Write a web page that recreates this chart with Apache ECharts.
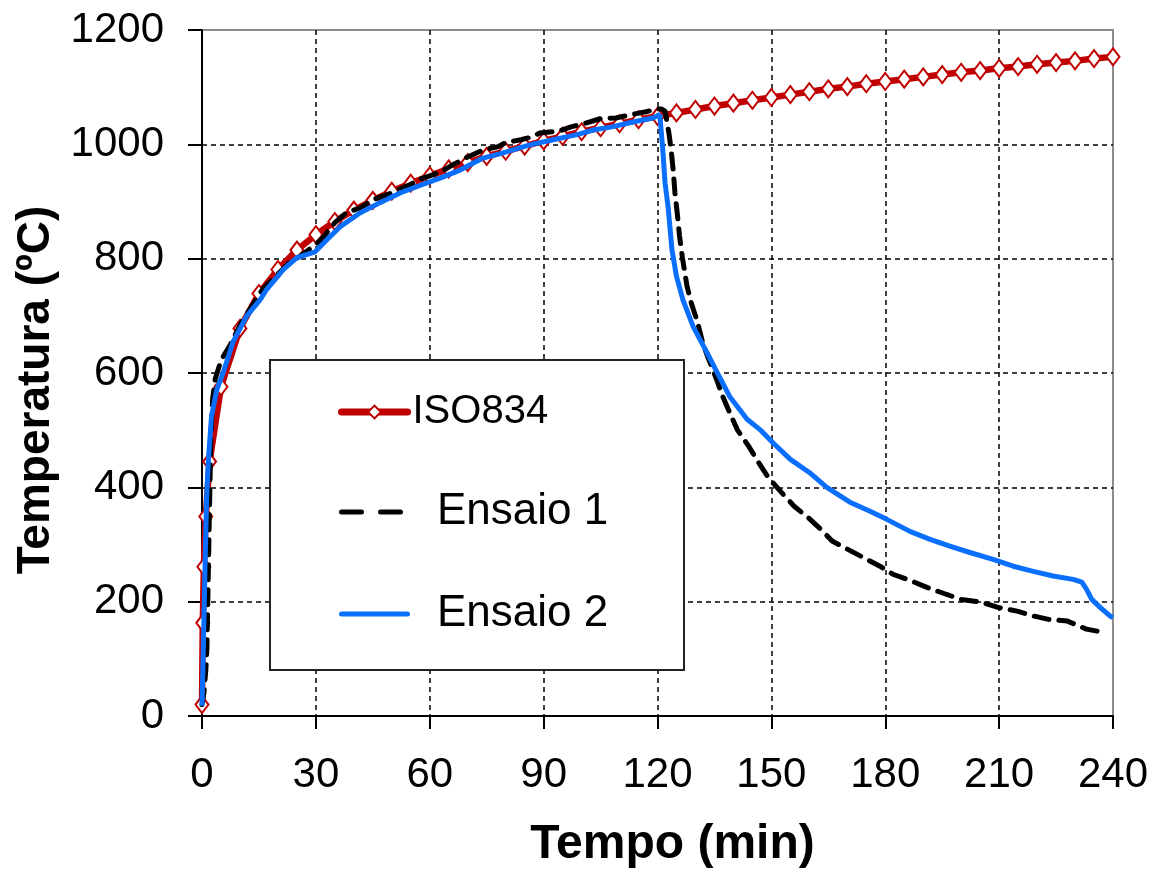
<!DOCTYPE html>
<html>
<head>
<meta charset="utf-8">
<script src="https://cdn.jsdelivr.net/npm/echarts@6/dist/echarts.min.js"></script>
<style>
html,body{margin:0;padding:0;background:#fff;}
#chart{width:1153px;height:874px;}
</style>
</head>
<body>
<div id="chart"></div>
<script>
// ---- Data ----
const xTicks = [0, 30, 60, 90, 120, 150, 180, 210, 240];
const yTicks = [0, 200, 400, 600, 800, 1000, 1200];

const isoTime = [0, 0.2, 0.5, 1, 2, 5, 10, 15, 20, 25, 30, 35, 40, 45, 50, 55, 60, 65, 70, 75, 80, 85, 90, 95, 100, 105, 110, 115, 120, 125, 130, 135, 140, 145, 150, 155, 160, 165, 170, 175, 180, 185, 190, 195, 200, 205, 210, 215, 220, 225, 230, 235, 240];
const isoTemp = [20, 163, 261, 349, 445, 576, 678, 739, 781, 815, 842, 865, 885, 902, 918, 932, 945, 957, 968, 979, 988, 997, 1006, 1014, 1022, 1029, 1036, 1043, 1049, 1055, 1061, 1067, 1072, 1077, 1082, 1087, 1092, 1097, 1101, 1106, 1110, 1114, 1118, 1122, 1126, 1129, 1133, 1136, 1140, 1143, 1146, 1150, 1153];

const ens1Time = [0, 0.5, 1, 1.3, 1.8, 2.3, 2.8, 3.5, 5, 7.5, 10.5, 12, 16, 18, 23, 26, 30, 32, 35, 38, 42, 45, 50, 55, 57, 60, 63, 66, 70, 74, 78, 80, 84, 87, 89, 94, 97, 101, 105, 109, 113, 117, 120, 121, 122, 123, 123.6, 124.2, 124.6, 125.2, 125.8, 126.6, 127.8, 129, 130.5, 132, 133.5, 135.5, 137, 139, 141, 144, 146.5, 149, 152, 156, 159.5, 163, 166, 170, 174, 178.6, 182, 187, 191, 196, 200, 205.5, 209.7, 215, 219, 223, 228, 233, 237, 238];
const ens1Temp = [20, 40, 80, 120, 300, 480, 555, 590, 622, 650, 690, 705, 747, 760, 793, 805, 825, 838, 863, 880, 890, 903, 915, 930, 938, 945, 952, 964, 978, 990, 996, 1003, 1008, 1013, 1020, 1023, 1030, 1037, 1045, 1046, 1052, 1057, 1062, 1062, 1058, 1020, 990, 950, 915, 880, 840, 800, 751, 720, 690, 650, 624, 590, 562, 531, 501, 472, 445, 419, 396, 367, 348, 327, 306, 292, 278, 262, 248, 236, 225, 213, 204, 199, 190, 183, 175, 169, 166, 152, 147, 145];

const ens2Time = [0, 0.35, 0.8, 1.2, 1.7, 2.5, 3.9, 5.6, 8.2, 11.8, 15.3, 17, 21.4, 25, 29.8, 32.9, 36.4, 41.6, 46.9, 52.2, 57.4, 62.7, 68, 74, 79.3, 86.4, 92.5, 98.8, 103, 108.3, 113.5, 118.8, 120.6, 121.1, 121.4, 122, 122.8, 123.8, 125, 126.7, 129.4, 133, 135.7, 139, 143.6, 147, 150.4, 155, 160, 164.6, 170.7, 176, 180.4, 186.5, 191.8, 197, 202.3, 208.4, 213.7, 219, 224.2, 229.5, 231.8, 233, 234.4, 236.6, 239.2, 240];
const ens2Temp = [18, 117, 262, 379, 449, 524, 571, 601, 655, 700, 728, 746, 781, 802, 812, 833, 856, 880, 898, 915, 928, 941, 955, 976, 985, 999, 1008, 1017, 1025, 1031, 1039, 1046, 1052, 1055, 990, 932, 890, 816, 769, 728, 681, 636, 601, 559, 519, 501, 478, 449, 426, 400, 374, 358, 344, 323, 309, 297, 286, 274, 262, 253, 245, 239, 234, 222, 204, 190, 175, 172];

const seriesNames = ['ISO834', 'Ensaio 1', 'Ensaio 2'];

function pairs(t, v) { return t.map((x, i) => [x, v[i]]); }

const FONT = 'Liberation Sans, Arial, sans-serif';
const RED = '#c00000', BLUE = '#0a6ffd';
const chart = echarts.init(document.getElementById('chart'), null, { renderer: 'canvas' });

const hiddenSymbol = { color: 'transparent', borderColor: 'transparent', borderWidth: 0, opacity: 0 };

chart.setOption({
  animation: false,
  backgroundColor: '#fff',
  grid: {
    left: 202, right: 40, top: 30, bottom: 157,
    show: true, borderColor: '#8c8c8c', borderWidth: 2, backgroundColor: 'transparent'
  },
  graphic: [{
    type: 'rect', z: 5,
    shape: { x: 270, y: 360, width: 414, height: 310 },
    style: { fill: '#fff', stroke: '#222', lineWidth: 2 }
  }],
  legend: {
    z: 10,
    orient: 'vertical',
    left: 338, top: 392, padding: 0,
    itemWidth: 66, itemHeight: 16,
    itemGap: 58,
    data: [
      { name: 'ISO834', lineStyle: { width: 7, color: RED, cap: 'round' } },
      { name: 'Ensaio 1', lineStyle: { width: 5, color: '#000', type: [20, 19], cap: 'round' }, itemStyle: hiddenSymbol },
      { name: 'Ensaio 2', lineStyle: { width: 5, color: BLUE, cap: 'round' }, itemStyle: hiddenSymbol }
    ],
    formatter: function (n) { return n === 'ISO834' ? '{a|ISO834}' : '{b|  ' + n + '}'; },
    textStyle: {
      fontFamily: FONT, color: '#000',
      rich: {
        a: { fontSize: 40, lineHeight: 40, fontFamily: FONT, color: '#000' },
        b: { fontSize: 44, lineHeight: 44, fontFamily: FONT, color: '#000' }
      }
    }
  },
  xAxis: {
    type: 'value', min: 0, max: 240, interval: 30,
    name: 'Tempo (min)', nameLocation: 'middle', nameGap: 105,
    nameTextStyle: { fontFamily: FONT, fontSize: 48, fontWeight: 'bold', color: '#000', padding: [0, 0, 0, 30] },
    axisLine: { show: true, lineStyle: { color: '#000', width: 2 } },
    axisTick: { show: true, inside: false, length: 13, lineStyle: { color: '#000', width: 2 } },
    axisLabel: {
      fontFamily: FONT, fontSize: 42, color: '#000', margin: 38,
      formatter: v => xTicks.includes(v) ? String(v) : ''
    },
    splitLine: { show: true, showMinLine: false, showMaxLine: false, lineStyle: { color: '#000', width: 1.5, type: [5, 4] } }
  },
  yAxis: {
    type: 'value', min: 0, max: 1200, interval: 200,
    name: 'Temperatura (ºC)', nameLocation: 'middle', nameGap: 128,
    nameTextStyle: { fontFamily: FONT, fontSize: 46, fontWeight: 'bold', color: '#000', padding: [0, 34, 0, 0] },
    axisLine: { show: true, lineStyle: { color: '#000', width: 2 } },
    axisTick: { show: true, inside: false, length: 14, lineStyle: { color: '#000', width: 2 } },
    axisLabel: {
      fontFamily: FONT, fontSize: 42, color: '#000', margin: 38,
      formatter: v => yTicks.includes(v) ? String(v) : ''
    },
    splitLine: { show: true, showMinLine: false, showMaxLine: false, lineStyle: { color: '#000', width: 1.5, type: [5, 4] } }
  },
  series: [
    {
      name: seriesNames[0], type: 'line', data: pairs(isoTime, isoTemp),
      symbol: 'diamond', symbolSize: [13, 17], showSymbol: true,
      lineStyle: { color: RED, width: 6.5 },
      itemStyle: { color: '#fff', borderColor: RED, borderWidth: 2 },
      z: 2
    },
    {
      name: seriesNames[1], type: 'line', data: pairs(ens1Time, ens1Temp),
      symbol: 'none', smooth: false,
      lineStyle: { color: '#000', width: 5, type: [15, 10], cap: 'round' },
      itemStyle: { color: '#000' },
      z: 3
    },
    {
      name: seriesNames[2], type: 'line', data: pairs(ens2Time, ens2Temp),
      symbol: 'none', smooth: false,
      lineStyle: { color: BLUE, width: 5 },
      itemStyle: { color: BLUE },
      z: 4
    }
  ]
});
</script>
</body>
</html>
